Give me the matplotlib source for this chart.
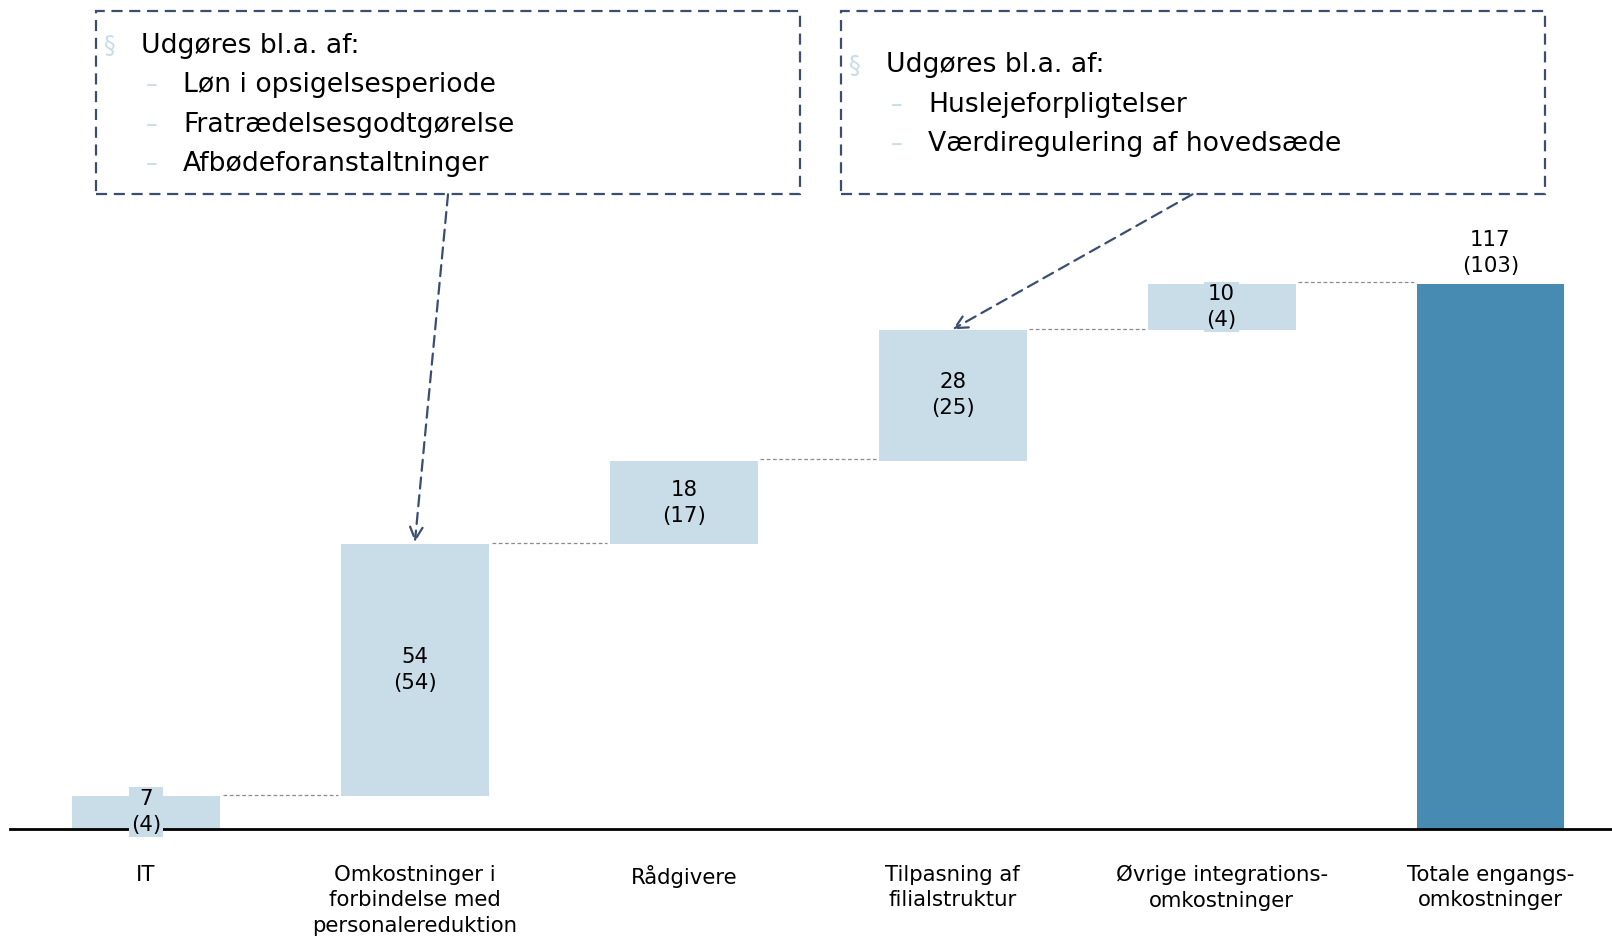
import numpy as np
import matplotlib
matplotlib.use("Agg")
import matplotlib.pyplot as plt
import matplotlib.patches as patches

plt.rcParams['font.family'] = ['DejaVu Sans']

# data
categories = ["IT", "Omkostninger i\nforbindelse med\npersonalereduktion", "Rådgivere",
              "Tilpasning af\nfilialstruktur", "Øvrige integrations-\nomkostninger",
              "Totale engangs-\nomkostninger"]
values = [7, 54, 18, 28, 10]
prior = [4, 54, 17, 25, 4]
total = 117
total_prior = 103
box1_head = "Udgøres bl.a. af:"
box1_items = ["Løn i opsigelsesperiode", "Fratrædelsesgodtgørelse", "Afbødeforanstaltninger"]
box2_head = "Udgøres bl.a. af:"
box2_items = ["Huslejeforpligtelser", "Værdiregulering af hovedsæde"]

light = "#C9DDE9"
dark = "#478BB3"
navy = "#3B4E70"
W, H = 1612, 939

fig = plt.figure(figsize=(W/100, H/100), dpi=100)
ax = fig.add_axes([0.0064, 0.1176, 0.9936, 0.8824])
ax.set_xlim(-0.5046, 5.452)
ax.set_ylim(0, 177.9)
for s in ["top", "right", "left"]:
    ax.spines[s].set_visible(False)
ax.spines["bottom"].set_linewidth(2)
ax.set_yticks([])

x = np.arange(len(categories))
bw = 0.55
bottoms = np.concatenate([[0], np.cumsum(values)[:-1]])
tops = bottoms + np.array(values)

ax.bar(x[:-1], values, bottom=bottoms, width=bw, color=light, zorder=2)
ax.bar(x[-1], total, width=bw, color=dark, zorder=2)

fs_lab = 15.3
for i in range(len(values)):
    ax.text(x[i], bottoms[i] + values[i]/2, f"{values[i]}\n({prior[i]})", ha="center", va="center",
            fontsize=fs_lab, linespacing=1.38, zorder=4,
            bbox=dict(boxstyle="square,pad=0.1", fc=light, ec="none"))
ax.text(x[-1], total + 1.6, f"{total}\n({total_prior})", ha="center", va="bottom",
        fontsize=fs_lab, linespacing=1.38)

# connectors
for i in range(len(values)):
    ax.plot([x[i] + bw/2 + 0.01, x[i+1] - bw/2 - 0.01], [tops[i] + 0.3, tops[i] + 0.3],
            color="#8C8C8C", lw=0.9, ls=(0, (3, 2)), zorder=1)

ax.set_xticks(x)
ax.set_xticklabels(categories, fontsize=fs_lab, linespacing=1.36)
ax.tick_params(axis="x", length=0, pad=26)


def fx(px):
    return px / W


def fy(py):
    return 1 - py / H


def draw_box(x0, x1, y0, y1):
    r = patches.Rectangle((fx(x0), fy(y1)), fx(x1) - fx(x0), fy(y0) - fy(y1),
                          transform=fig.transFigure, fill=False, ec=navy, lw=1.6,
                          ls=(0, (5, 3)))
    fig.patches.append(r)


draw_box(95.6, 800, 11.3, 194.3)
draw_box(841, 1545, 11.3, 194.3)

fs_box = 19.2
fig.text(fx(104), fy(46), "§", color=light, fontsize=17, va="center")
fig.text(fx(141), fy(46), box1_head, fontsize=fs_box, va="center")
for j, item in enumerate(box1_items):
    yy = 85 + j * 39.5
    fig.text(fx(146), fy(yy), "–", color=light, fontsize=17, va="center")
    fig.text(fx(183), fy(yy), item, fontsize=fs_box, va="center")

fig.text(fx(849), fy(65.5), "§", color=light, fontsize=17, va="center")
fig.text(fx(886), fy(65.5), box2_head, fontsize=fs_box, va="center")
for j, item in enumerate(box2_items):
    yy = 104.5 + j * 39.5
    fig.text(fx(891), fy(yy), "–", color=light, fontsize=17, va="center")
    fig.text(fx(928), fy(yy), item, fontsize=fs_box, va="center")

# arrows from boxes to bars
ax.annotate("", xy=(x[1], tops[1] + 0.5), xytext=(fx(448), fy(194.3)),
            textcoords="figure fraction",
            arrowprops=dict(arrowstyle="->,head_length=0.9,head_width=0.45", color=navy,
                            lw=1.6, ls=(0, (5, 3)), shrinkA=0, shrinkB=0))
ax.annotate("", xy=(x[3], tops[3] + 0.2), xytext=(fx(1192.5), fy(194.3)),
            textcoords="figure fraction",
            arrowprops=dict(arrowstyle="->,head_length=0.9,head_width=0.45", color=navy,
                            lw=1.6, ls=(0, (5, 3)), shrinkA=0, shrinkB=0))

fig.savefig("out.png", dpi=100)
